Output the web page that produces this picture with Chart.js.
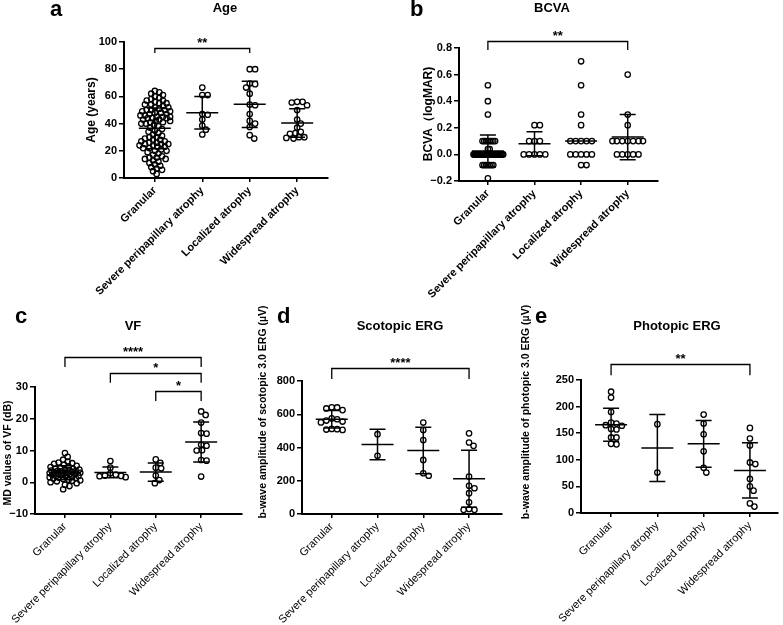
<!DOCTYPE html>
<html>
<head>
<meta charset="utf-8">
<script src="https://cdn.jsdelivr.net/npm/chart.js@4.4.0/dist/chart.umd.min.js"></script>
<style>
body { margin: 0; background: #fff; width: 783px; height: 625px; position: relative; overflow: hidden; }
.panel { position: absolute; }
.panel canvas { display: block; }
</style>
</head>
<body>
<div class="panel" style="left:0;top:0"><canvas id="chartA" width="390" height="300"></canvas></div>
<div class="panel" style="left:390px;top:0"><canvas id="chartB" width="393" height="300"></canvas></div>
<div class="panel" style="left:0;top:300px"><canvas id="chartC" width="250" height="325"></canvas></div>
<div class="panel" style="left:250px;top:300px"><canvas id="chartD" width="270" height="325"></canvas></div>
<div class="panel" style="left:520px;top:300px"><canvas id="chartE" width="263" height="325"></canvas></div>
<script>
// Groups shown on every x axis
const groups = ['Granular', 'Severe peripapillary atrophy', 'Localized atrophy', 'Widespread atrophy'];

// a - Age
const ageGranular = [64, 63, 62, 61, 60, 59, 58, 57, 57, 56, 55, 55, 54, 54, 53, 52, 52, 51, 50, 50, 50, 49, 49, 48, 48,
    47, 47, 46, 46, 45, 45, 45, 44, 44, 44, 43, 43, 42, 42, 41, 41, 40, 40,
    39, 38, 37, 36, 35, 34, 33, 32, 31, 30, 30,
    29, 28, 28, 27, 27, 26, 26, 25, 25, 25, 24, 24, 23, 23, 22, 22, 21, 20, 20,
    19, 18, 17, 16, 15, 15, 14, 14, 13, 12, 11, 10, 9, 8, 7, 6, 5, 3];
const ageSevere = [66.5, 61, 61, 47, 46.5, 43, 38.5, 35.5, 32];
const ageLocalized = [80, 80, 69.5, 69, 66.5, 62, 54, 53.5, 47, 42, 40, 37.5, 31.5, 29];
const ageWidespread = [56, 56, 55.5, 53.5, 50, 43, 40, 37, 34, 33, 32.5, 30, 30, 29.5, 29];
const ageMeans = [36.5, 48, 54.2, 40.4];
const ageSDs = [15, 12, 17, 10.5];
const ageTicks = [0, 20, 40, 60, 80, 100];

// b - BCVA
const bcvaGranular = [0.52, 0.4, 0.3, 0.1, 0.1, 0.1, 0.1, 0.1, 0.1, 0.1, 0.1, 0.04, 0.04,
    0, 0, 0, 0, 0, 0, 0, 0, 0, 0, 0, 0, 0, 0, 0, 0, 0, 0, 0, 0, 0, 0, 0, 0, 0, 0, 0, 0, 0, 0, 0, 0, 0, 0,
    -0.08, -0.08, -0.08, -0.08, -0.08, -0.08, -0.08, -0.18];
const bcvaSevere = [0.22, 0.22, 0.1, 0.1, 0.1, 0, 0, 0, 0, 0];
const bcvaLocalized = [0.7, 0.52, 0.3, 0.22, 0.1, 0.1, 0.1, 0.1, 0.1, 0, 0, 0, 0, 0, -0.08, -0.08];
const bcvaWidespread = [0.6, 0.3, 0.22, 0.1, 0.1, 0.1, 0.1, 0.1, 0.1, 0.1, 0, 0, 0, 0, 0];
const bcvaMeans = [0.025, 0.08, 0.1, 0.13];
const bcvaSDs = [0.12, 0.09, 0, 0.17];
const bcvaTicks = [-0.2, 0, 0.2, 0.4, 0.6, 0.8];

// c - VF
const vfGranular = [9.2, 8.0, 7.1, 6.5, 6.2, 6.0, 5.8, 5.5, 5.2, 5.0, 4.8, 4.5, 4.3, 4.2, 4.0, 4.0, 3.8, 3.7, 3.6, 3.5,
    3.4, 3.3, 3.2, 3.0, 3.0, 2.9, 2.8, 2.7, 2.6, 2.5, 2.4, 2.2, 2.0, 2.0, 1.9, 1.8, 1.6, 1.5, 1.3, 1.2,
    1.0, 0.8, 0.6, 0.5, 0.3, 0.0, -0.3, -0.8, -1.2, -2.2];
const vfSevere = [6.7, 4.6, 2.8, 2.4, 2.1, 2.0, 1.9, 1.6];
const vfLocalized = [7.2, 6.1, 4.6, 4.4, 2.1, 0.7, -0.3];
const vfWidespread = [22.3, 21.2, 18.8, 15.5, 15.3, 11.8, 11.5, 10.1, 10.0, 7.0, 6.8, 1.8];
const vfMeans = [3.0, 3.1, 3.2, 12.7];
const vfSDs = [2.2, 1.7, 2.9, 6.3];
const vfTicks = [-10, 0, 10, 20, 30];

// d - Scotopic ERG
const scoGranular = [641, 625, 635, 642, 556, 575, 551, 562, 570, 508, 510, 506, 512];
const scoSevere = [480, 350];
const scoLocalized = [550, 505, 445, 325, 245, 230];
const scoWidespread = [485, 430, 410, 225, 170, 155, 125, 70, 30, 25, 25];
const scoMeans = [570, 418, 382, 212];
const scoSDs = [52, 92, 140, 172];
const scoTicks = [0, 200, 400, 600, 800];

// e - Photopic ERG
const phoGranular = [228, 217, 190, 170, 168, 164, 165, 158, 157, 142, 142, 130, 129];
const phoSevere = [167, 76];
const phoLocalized = [185, 168, 148, 116, 85, 76];
const phoWidespread = [160, 140, 127, 95, 92, 64, 50, 42, 18, 12];
const phoMeans = [166, 122, 130, 80];
const phoSDs = [31, 63, 44, 52];
const phoTicks = [0, 50, 100, 150, 200, 250];

const FONT = "'Liberation Sans', Arial, sans-serif";

// Spread points of one column sideways so circles don't sit on top of each other
function swarm(vals, pxX, pxY, gap, maxHalf) {
    const order = vals.map((v, i) => i).sort((i, j) => vals[j] - vals[i]);
    const placed = [];
    const off = new Array(vals.length).fill(0);
    order.forEach(i => {
        const y = vals[i] * pxY;
        let best = 0, bestScore = -1;
        search:
        for (let k = 0; k <= maxHalf; k += 0.9) {
            for (const s of (k ? [k, -k] : [0])) {
                let minD = Infinity;
                placed.forEach(p => {
                    if (Math.abs(p.y - y) < gap) minD = Math.min(minD, Math.hypot(p.x - s, p.y - y));
                });
                if (minD >= gap) { best = s; break search; }
                if (minD > bestScore + 0.01) { bestScore = minD; best = s; }
            }
        }
        placed.push({ x: best, y });
        off[i] = best / pxX;
    });
    return off;
}

function makeChart(id, p) {
    const area = p.area;
    const pxX = (area.right - area.left) / (p.xMax - p.xMin);
    const pxY = (area.bottom - area.top) / (p.yMax - p.yMin);
    const datasets = p.series.map((vals, g) => {
        const off = swarm(vals, pxX, pxY, p.gaps ? p.gaps[g] : 5.4, 16);
        return {
            data: vals.map((v, i) => ({ x: g + off[i], y: v })),
            pointRadius: 2.7,
            pointBorderWidth: 1.3,
            borderColor: '#000',
            backgroundColor: 'rgba(255,255,255,0)',
            clip: false
        };
    });

    const decor = {
        id: 'decor',
        afterDatasetsDraw(chart) {
            const ctx = chart.ctx, x = chart.scales.x, y = chart.scales.y;
            ctx.save();
            ctx.strokeStyle = '#000';
            ctx.lineWidth = 1.5;
            p.means.forEach((m, i) => {
                const cx = x.getPixelForValue(i);
                const top = y.getPixelForValue(m + p.sds[i]);
                const bot = y.getPixelForValue(m - p.sds[i]);
                const my = y.getPixelForValue(m);
                ctx.beginPath();
                ctx.moveTo(cx, top); ctx.lineTo(cx, bot);
                ctx.moveTo(cx - 8, top); ctx.lineTo(cx + 8, top);
                ctx.moveTo(cx - 8, bot); ctx.lineTo(cx + 8, bot);
                ctx.moveTo(cx - 16, my); ctx.lineTo(cx + 16, my);
                ctx.stroke();
            });
            ctx.restore();
        },
        afterDraw(chart) {
            const ctx = chart.ctx, x = chart.scales.x, y = chart.scales.y;
            ctx.save();
            ctx.fillStyle = '#000';
            ctx.strokeStyle = '#000';
            ctx.lineWidth = 1.3;
            // significance brackets
            p.brackets.forEach(b => {
                const x1 = x.getPixelForValue(b.from), x2 = x.getPixelForValue(b.to);
                const yy = Math.round(y.getPixelForValue(b.y)) + 0.5, yd = y.getPixelForValue(b.drop);
                ctx.beginPath();
                ctx.moveTo(x1, yd); ctx.lineTo(x1, yy); ctx.lineTo(x2, yy); ctx.lineTo(x2, yd);
                ctx.stroke();
                ctx.font = 'bold 13px ' + FONT;
                ctx.textAlign = 'center';
                ctx.textBaseline = 'bottom';
                ctx.fillText(b.label, (x1 + x2) / 2, yy + 1);
            });
            // panel letter and title
            ctx.textBaseline = 'middle';
            ctx.textAlign = 'left';
            ctx.font = 'bold 22px ' + FONT;
            ctx.fillText(p.letter, p.letterPos[0], p.letterPos[1]);
            ctx.textAlign = 'center';
            ctx.font = 'bold 13px ' + FONT;
            ctx.fillText(p.title, p.titlePos[0], p.titlePos[1]);
            // y axis title
            ctx.translate(p.yTitlePos[0], p.yTitlePos[1]);
            ctx.rotate(-Math.PI / 2);
            ctx.font = p.yTitleFont;
            ctx.fillText(p.yTitle, 0, 0);
            ctx.restore();
        }
    };

    const canvas = document.getElementById(id);
    return new Chart(canvas.getContext('2d'), {
        type: 'scatter',
        data: { datasets },
        options: {
            responsive: false,
            animation: false,
            devicePixelRatio: 1,
            layout: {
                padding: {
                    left: area.left - p.yWidth,
                    top: area.top,
                    right: canvas.width - area.right,
                    bottom: 0
                }
            },
            plugins: { legend: { display: false }, tooltip: { enabled: false } },
            scales: {
                x: {
                    type: 'linear',
                    min: p.xMin,
                    max: p.xMax,
                    afterFit: s => { s.height = canvas.height - area.bottom; },
                    afterBuildTicks: s => { s.ticks = groups.map((g, i) => ({ value: i })); },
                    border: { display: true, color: '#000', width: 2 },
                    grid: { drawOnChartArea: false, drawTicks: true, tickLength: 4, color: '#000', lineWidth: 1.5 },
                    ticks: {
                        autoSkip: false,
                        minRotation: 45,
                        maxRotation: 45,
                        padding: 2,
                        color: '#000',
                        font: { family: FONT, size: 11, weight: p.xBold ? 'bold' : 'normal' },
                        callback: v => groups[Math.round(v)]
                    }
                },
                y: {
                    min: p.yMin,
                    max: p.yMax,
                    afterFit: s => { s.width = p.yWidth; },
                    afterBuildTicks: s => { s.ticks = p.ticks.map(v => ({ value: v })); },
                    border: { display: true, color: '#000', width: 2 },
                    grid: { drawOnChartArea: false, drawTicks: true, tickLength: 5, color: '#000', lineWidth: 1.5 },
                    ticks: {
                        padding: 2,
                        color: '#000',
                        font: { family: FONT, size: 11, weight: 'bold' },
                        callback: v => {
                            const t = p.decimals ? Math.abs(v).toFixed(p.decimals) : String(Math.abs(v));
                            return v < 0 ? '\u2212' + t : t;
                        }
                    }
                }
            }
        },
        plugins: [decor]
    });
}

makeChart('chartA', {
    series: [ageGranular, ageSevere, ageLocalized, ageWidespread],
    means: ageMeans, sds: ageSDs, ticks: ageTicks, gaps: [4.4, 5.4, 5.4, 5.4],
    yMin: 0, yMax: 100, xMin: -0.65, xMax: 3.65, decimals: 0,
    area: { left: 124, top: 42, right: 328, bottom: 178 }, yWidth: 40, xBold: true,
    brackets: [{ from: 0, to: 2, y: 95.6, drop: 91.9, label: '**' }],
    letter: 'a', letterPos: [50, 10], title: 'Age', titlePos: [225, 8],
    yTitle: 'Age (years)', yTitlePos: [92, 110], yTitleFont: 'bold 12px ' + FONT
});

makeChart('chartB', {
    series: [bcvaGranular, bcvaSevere, bcvaLocalized, bcvaWidespread],
    means: bcvaMeans, sds: bcvaSDs, ticks: bcvaTicks, gaps: [1.8, 5.4, 5.4, 5.4],
    yMin: -0.2, yMax: 0.8, xMin: -0.62, xMax: 3.65, decimals: 1,
    area: { left: 69, top: 48, right: 268, bottom: 181 }, yWidth: 32, xBold: true,
    brackets: [{ from: 0, to: 3, y: 0.853, drop: 0.785, label: '**' }],
    letter: 'b', letterPos: [20, 10], title: 'BCVA', titlePos: [162, 8],
    yTitle: 'BCVA\uFF08logMAR)', yTitlePos: [39, 114], yTitleFont: 'bold 12px ' + FONT
});

makeChart('chartC', {
    series: [vfGranular, vfSevere, vfLocalized, vfWidespread],
    means: vfMeans, sds: vfSDs, ticks: vfTicks, gaps: [4.6, 5.4, 5.4, 5.4],
    yMin: -10, yMax: 30, xMin: -0.66, xMax: 3.9, decimals: 0,
    area: { left: 35, top: 87, right: 242, bottom: 214 }, yWidth: 30, xBold: false,
    brackets: [
        { from: 0, to: 3, y: 39.4, drop: 36.3, label: '****' },
        { from: 1, to: 3, y: 34.4, drop: 31.3, label: '*' },
        { from: 2, to: 3, y: 28.8, drop: 25.6, label: '*' }
    ],
    letter: 'c', letterPos: [15, 17], title: 'VF', titlePos: [133, 26],
    yTitle: 'MD values of VF (dB)', yTitlePos: [8, 153], yTitleFont: 'bold 10.5px ' + FONT
});

makeChart('chartD', {
    series: [scoGranular, scoSevere, scoLocalized, scoWidespread],
    means: scoMeans, sds: scoSDs, ticks: scoTicks,
    yMin: 0, yMax: 800, xMin: -0.65, xMax: 3.72, decimals: 0,
    area: { left: 52, top: 81, right: 252, bottom: 214 }, yWidth: 30, xBold: false,
    brackets: [{ from: 0, to: 3, y: 878, drop: 812, label: '****' }],
    letter: 'd', letterPos: [27, 17], title: 'Scotopic ERG', titlePos: [150, 26],
    yTitle: 'b-wave amplitude of scotopic 3.0 ERG (\u00B5V)', yTitlePos: [13, 112], yTitleFont: 'bold 10.5px ' + FONT
});

makeChart('chartE', {
    series: [phoGranular, phoSevere, phoLocalized, phoWidespread],
    means: phoMeans, sds: phoSDs, ticks: phoTicks,
    yMin: 0, yMax: 250, xMin: -0.65, xMax: 3.6, decimals: 0,
    area: { left: 61, top: 80, right: 258, bottom: 213 }, yWidth: 30, xBold: false,
    brackets: [{ from: 0, to: 3, y: 280, drop: 259, label: '**' }],
    letter: 'e', letterPos: [15, 17], title: 'Photopic ERG', titlePos: [157, 26],
    yTitle: 'b-wave amplitude of photopic 3.0 ERG (\u00B5V)', yTitlePos: [6, 112], yTitleFont: 'bold 10.5px ' + FONT
});
</script>
</body>
</html>
